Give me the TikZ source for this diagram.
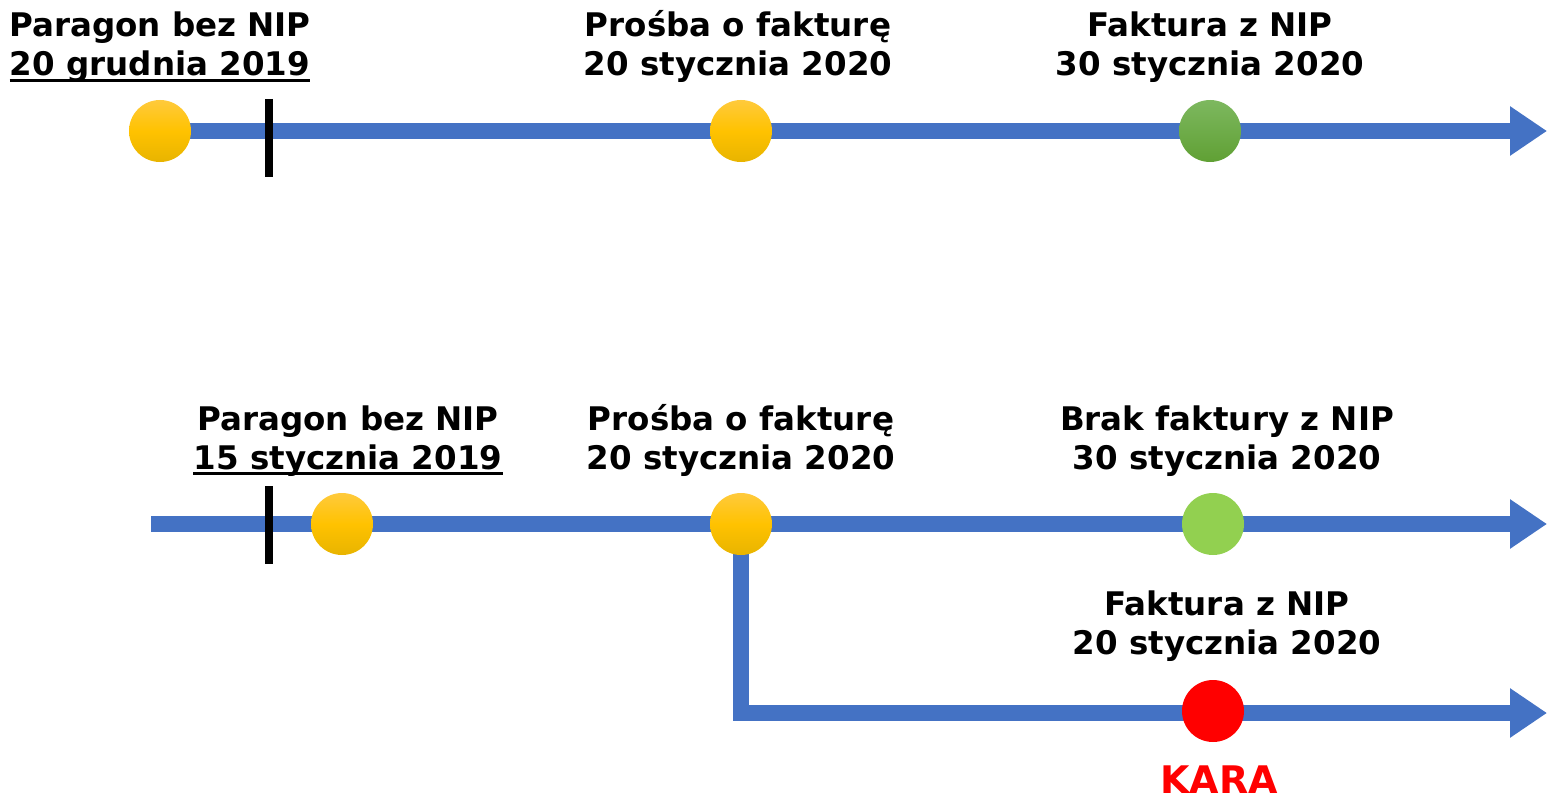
\documentclass[tikz,border=0pt]{standalone}
\usepackage{fontspec}
\setmainfont{DejaVu Sans}
\usetikzlibrary{arrows.meta,backgrounds}
\definecolor{lineblue}{RGB}{68,114,196}
\definecolor{ytop}{RGB}{255,202,60}
\definecolor{ybot}{RGB}{232,180,0}
\definecolor{gtop}{RGB}{125,184,95}
\definecolor{gbot}{RGB}{96,160,52}
\definecolor{lgreen}{RGB}{146,208,80}
\definecolor{kred}{RGB}{255,0,0}
\tikzset{
  lbl/.style={font=\fontsize{32.5}{38}\selectfont\bfseries, inner sep=0pt, anchor=base},
  dot/.style={circle, minimum size=62pt, inner sep=0pt},
  ydot/.style={dot, top color=ytop, bottom color=ybot, middle color={rgb,255:red,255;green,194;blue,0}},
  gdot/.style={dot, top color=gtop, bottom color=gbot},
  lgdot/.style={dot, fill=lgreen},
  rdot/.style={dot, fill=kred},
  tl/.style={draw=lineblue, line width=16pt},
  tla/.style={tl, -{Triangle[length=37pt,width=47pt]}},
  tick/.style={draw=black, line width=8pt},
  uline/.style={draw=black, line width=3pt}
}
\begin{document}
\begin{tikzpicture}[x=1pt,y=-1pt]
\useasboundingbox (0,0) rectangle (1547,797);
% circles
\node[ydot] (c1) at (160,131) {};
\node[ydot] (c2) at (741,131) {};
\node[gdot] (c3) at (1210,131) {};
\node[ydot] (c4) at (342,524) {};
\node[ydot] (c5) at (741,524) {};
\node[lgdot] (c6) at (1213,524) {};
\node[rdot] (c7) at (1213,711) {};
\coordinate (e1) at (1547,131);
\coordinate (s2) at (151,524);
\coordinate (e2) at (1547,524);
\coordinate (e3) at (1547,713);
\begin{scope}[on background layer]
\draw[tla] (c1.center) -- (e1);
\draw[tla] (s2) -- (e2);
\draw[tla] (c5.center) |- (e3);
\end{scope}
% ticks
\draw[tick] (269,99) -- (269,177);
\draw[tick] (269,486) -- (269,564);
% labels top
\node[lbl] (t1a) at (160,37) {Paragon bez NIP};
\node[lbl] (t1b) at (160,76) {20 grudnia 2019};
\draw[uline] ([yshift=-4.5pt]t1b.base west) -- ([yshift=-4.5pt]t1b.base east);
\node[lbl] (t2a) at (738,37) {Prośba o fakturę};
\node[lbl] (t2b) at (738,76) {20 stycznia 2020};
\node[lbl] (t3a) at (1210,37) {Faktura z NIP};
\node[lbl] (t3b) at (1210,76) {30 stycznia 2020};
% labels bottom
\node[lbl] (t4a) at (348,430) {Paragon bez NIP};
\node[lbl] (t4b) at (348,469) {15 stycznia 2019};
\draw[uline] ([yshift=-4.5pt]t4b.base west) -- ([yshift=-4.5pt]t4b.base east);
\node[lbl] (t5a) at (741,430) {Prośba o fakturę};
\node[lbl] (t5b) at (741,469) {20 stycznia 2020};
\node[lbl] (t6a) at (1227,430) {Brak faktury z NIP};
\node[lbl] (t6b) at (1227,469) {30 stycznia 2020};
\node[lbl] (t7a) at (1227,615) {Faktura z NIP};
\node[lbl] (t7b) at (1227,654) {20 stycznia 2020};
\node[lbl, font=\fontsize{38}{44}\selectfont\bfseries, text=kred] (k) at (1219,793) {KARA};
\end{tikzpicture}
\end{document}
